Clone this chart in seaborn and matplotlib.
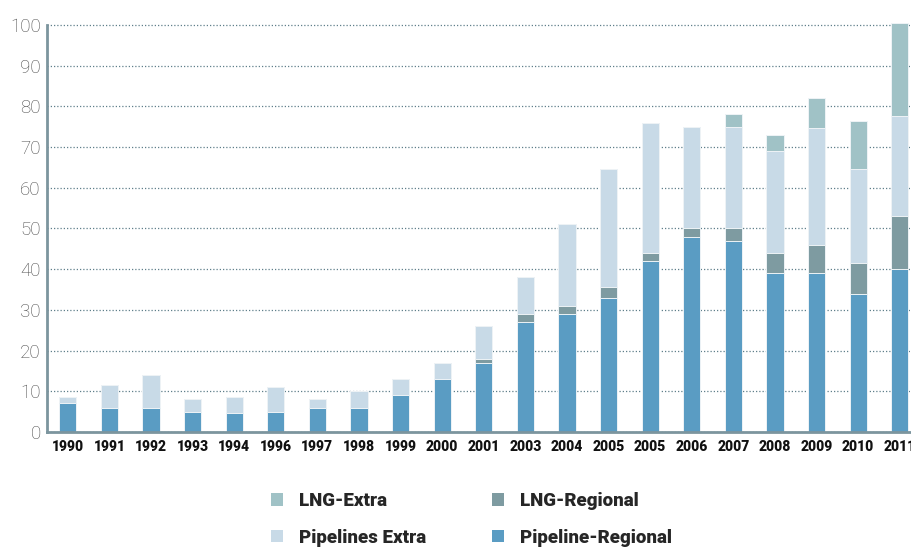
import numpy as np
import pandas as pd
import matplotlib
matplotlib.use("Agg")
import matplotlib.pyplot as plt
from matplotlib.patches import Patch
from matplotlib.ticker import FixedLocator
import seaborn as sns

# Gas import volumes by year and route
years = ["1990", "1991", "1992", "1993", "1994", "1996", "1997", "1998", "1999", "2000",
         "2001", "2003", "2004", "2005", "2005", "2006", "2007", "2008", "2009", "2010", "2011"]
pipeline_regional = [7, 6, 6, 5, 4.7, 5, 6, 6, 9, 13,
                     17, 27, 29, 33, 42, 48, 47, 39, 39, 34, 40]
lng_regional = [0, 0, 0, 0, 0, 0, 0, 0, 0, 0,
                1, 2, 2, 2.5, 2, 2, 3, 5, 7, 7.5, 13]
pipelines_extra = [1.5, 5.5, 8, 3, 4, 6, 2, 4, 4, 4,
                   8, 9, 20, 29, 32, 25, 25, 25, 28.7, 23, 24.5]
lng_extra = [0, 0, 0, 0, 0, 0, 0, 0, 0, 0,
             0, 0, 0, 0, 0, 0, 3, 4, 7.3, 12, 23]

series_names = ["Pipeline-Regional", "LNG-Regional", "Pipelines Extra", "LNG-Extra"]
colors = {
    "Pipeline-Regional": "#5a9cc3",
    "LNG-Regional": "#7e9ba1",
    "Pipelines Extra": "#c8dae7",
    "LNG-Extra": "#a0c2c6",
}

df = pd.DataFrame({
    "pos": np.arange(len(years)),
    "Pipeline-Regional": pipeline_regional,
    "LNG-Regional": lng_regional,
    "Pipelines Extra": pipelines_extra,
    "LNG-Extra": lng_extra,
})
# cumulative tops for stacking
cum = df[series_names].cumsum(axis=1)

sns.set_style("white")
plt.rcParams["font.family"] = ["Roboto", "DejaVu Sans"]

fig = plt.figure(figsize=(9.11, 5.48), dpi=100)
ax = fig.add_axes([47 / 911, 116 / 548, 1 - 47 / 911, 432 / 548])

# draw from the tallest cumulative layer down so each segment sits on the one below
for name in reversed(series_names):
    sns.barplot(x=df["pos"], y=cum[name], color=colors[name], width=0.41,
                edgecolor="#eef3f6", linewidth=0.7, saturation=1, ax=ax,
                order=list(range(len(years))))

ax.set_xlim(-0.5, 20.27)
ax.set_ylim(0, 106.1)
ax.set_xlabel("")
ax.set_ylabel("")

ax.set_yticks(np.arange(0, 101, 10))
ax.yaxis.grid(True, color="#5f7f8a", linestyle=(0, (1, 1.6)), linewidth=0.9)
ax.xaxis.grid(False)
ax.set_axisbelow(True)

ax.set_xticks(range(len(years)))
ax.set_xticklabels(years, fontsize=10, fontweight="heavy", color="#111111")
ax.xaxis.set_minor_locator(FixedLocator(np.arange(0.5, len(years), 1)))
ax.tick_params(axis="x", which="major", length=0, pad=6)
ax.tick_params(axis="x", which="minor", length=6, width=1.6, color="#7c959e", direction="out")
ax.tick_params(axis="y", which="major", length=4, width=1.6, color="#7c959e",
               direction="out", labelsize=13.5, labelcolor="#4a4a4a", pad=0.5)
for lab in ax.get_yticklabels():
    lab.set_fontweight("light")

for side in ["top", "right"]:
    ax.spines[side].set_visible(False)
for side in ["left", "bottom"]:
    ax.spines[side].set_color("#7c959e")
    ax.spines[side].set_linewidth(2)
ax.spines["left"].set_bounds(0, 100)

handles = [Patch(facecolor=colors[n], edgecolor="none") for n in
           ["LNG-Extra", "Pipelines Extra", "LNG-Regional", "Pipeline-Regional"]]
labels = ["LNG-Extra", "Pipelines Extra", "LNG-Regional", "Pipeline-Regional"]
leg = fig.legend(handles, labels, ncol=2, loc="upper left",
                 bbox_to_anchor=(271 / 911, 1 - 492 / 548), frameon=False,
                 prop={"weight": "heavy", "size": 13.5}, handlelength=0.65, handleheight=0.65,
                 handletextpad=0.85, columnspacing=3.5, labelspacing=1.0, borderpad=0,
                 borderaxespad=0)

fig.savefig("out.png", dpi=100)
